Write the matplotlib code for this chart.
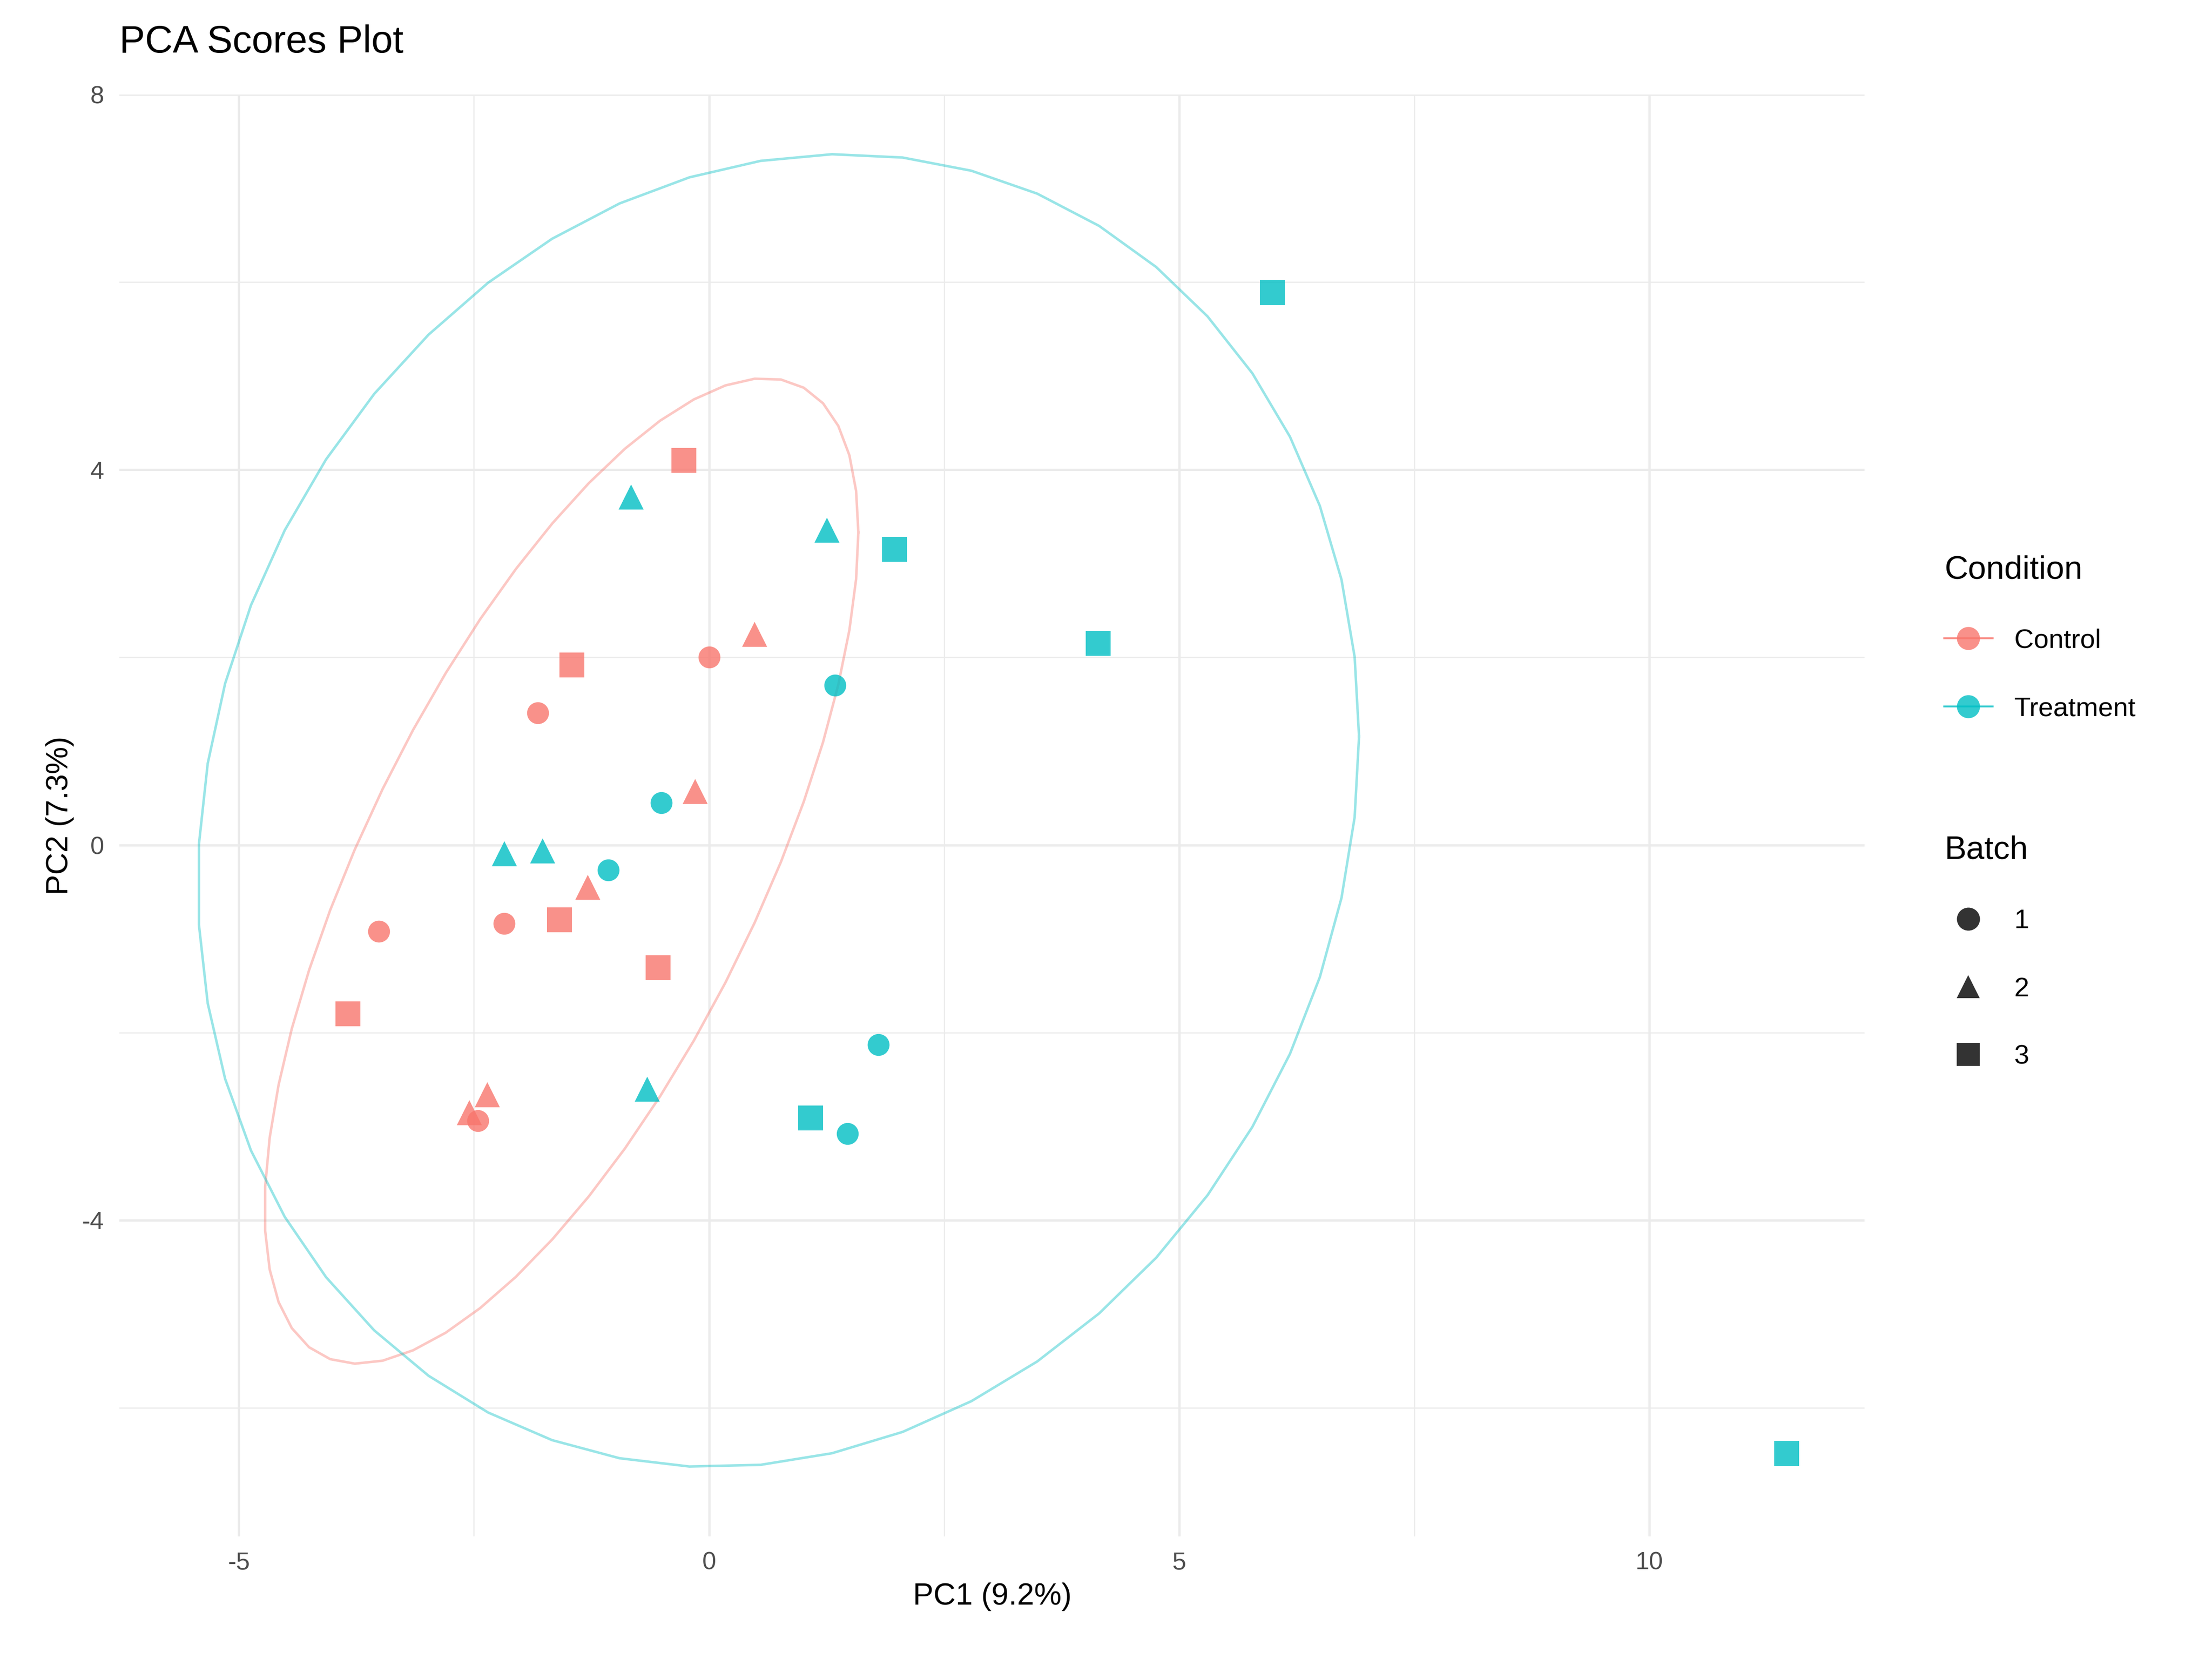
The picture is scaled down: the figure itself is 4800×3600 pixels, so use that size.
import numpy as np
import matplotlib.pyplot as plt
from matplotlib.lines import Line2D

# Control scores
ctrl_x = [0.0, -1.82, -3.51, -2.18, -2.46, 0.48, -0.15, -1.29, -2.36, -2.55, -0.27, -1.46, -1.59, -0.54, -3.84]
ctrl_y = [2.0, 1.41, -0.92, -0.84, -2.94, 2.25, 0.57, -0.45, -2.66, -2.85, 4.10, 1.92, -0.80, -1.31, -1.80]
ctrl_batch = [1, 1, 1, 1, 1, 2, 2, 2, 2, 2, 3, 3, 3, 3, 3]
# Treatment scores
trt_x = [1.34, -0.51, -1.07, 1.80, 1.47, -0.83, 1.25, -2.18, -1.77, -0.66, 5.99, 1.97, 4.14, 1.08, 11.46]
trt_y = [1.70, 0.45, -0.27, -2.13, -3.08, 3.71, 3.36, -0.09, -0.06, -2.60, 5.89, 3.15, 2.15, -2.91, -6.49]
trt_batch = [1, 1, 1, 1, 1, 2, 2, 2, 2, 2, 3, 3, 3, 3, 3]

colors = {"Control": "#F8766D", "Treatment": "#00BFC4"}
markers = {1: "o", 2: "^", 3: "s"}

plt.rcParams['font.family'] = ['Liberation Sans', 'DejaVu Sans']
plt.rcParams['axes.unicode_minus'] = False
fig = plt.figure(figsize=(16, 12), dpi=300)
ax = fig.add_axes([0.054, 0.074, 0.789, 0.869])


def trob(pts, nu=5, iters=200):
    # robust t covariance, like MASS::cov.trob
    n, p = pts.shape
    w = np.ones(n)
    for _ in range(iters):
        c = (w[:, None] * pts).sum(0) / w.sum()
        d = pts - c
        cov = (w[:, None] * d).T @ d / n
        q = np.einsum('ij,jk,ik->i', d, np.linalg.inv(cov), d)
        w = (nu + p) / (nu + q)
    return c, cov


def ellipse(x, y):
    pts = np.column_stack([x, y])
    center, cov = trob(pts)
    radius = np.sqrt(2 * 3.74)
    t = np.linspace(0, 2 * np.pi, 52)
    circ = np.column_stack([np.cos(t), np.sin(t)])
    chol = np.linalg.cholesky(cov)
    e = center + radius * circ @ chol.T
    return e[:, 0], e[:, 1]


for name, xs, ys, bs in [("Control", ctrl_x, ctrl_y, ctrl_batch),
                         ("Treatment", trt_x, trt_y, trt_batch)]:
    ex, ey = ellipse(xs, ys)
    ax.plot(ex, ey, color=colors[name], alpha=0.4, lw=1.3)
    for b in (1, 2, 3):
        px = [x for x, bb in zip(xs, bs) if bb == b]
        py = [y for y, bb in zip(ys, bs) if bb == b]
        ax.scatter(px, py, marker=markers[b], color=colors[name], alpha=0.8,
                   s=170 if b != 1 else 130, linewidths=0, zorder=3)

ax.set_xlim(-6.27, 12.29)
ax.set_ylim(-7.37, 8.0)
ax.set_xticks([-5, 0, 5, 10])
ax.set_yticks([-4, 0, 4, 8])
ax.set_xticks([-2.5, 2.5, 7.5], minor=True)
ax.set_yticks([-6, -2, 2, 6], minor=True)
ax.grid(True, which='major', color='#EBEBEB', lw=1.2)
ax.grid(True, which='minor', color='#EBEBEB', lw=0.6)
ax.set_axisbelow(True)
ax.tick_params(which='both', length=0, labelsize=13, colors='#4D4D4D', pad=8)
for s in ax.spines.values():
    s.set_visible(False)
ax.set_xlabel("PC1 (9.2%)", fontsize=16)
ax.set_ylabel("PC2 (7.3%)", fontsize=16)
ax.set_title("PCA Scores Plot", fontsize=20, loc='left', pad=22)

h1 = [Line2D([], [], color=colors[k], marker='o', markersize=12, alpha=0.8,
             lw=1, markeredgewidth=0) for k in colors]
fig.legend(h1, list(colors), title="Condition", loc='upper left',
           bbox_to_anchor=(0.868, 0.68), frameon=False, fontsize=14,
           title_fontsize=17, alignment='left', handlelength=1.8,
           labelspacing=1.6)
h2 = [Line2D([], [], color='#333333', marker=markers[b], markersize=12, lw=0,
             markeredgewidth=0) for b in (1, 2, 3)]
fig.legend(h2, ["1", "2", "3"], title="Batch", loc='upper left',
           bbox_to_anchor=(0.868, 0.511), frameon=False, fontsize=14,
           title_fontsize=17, alignment='left', handlelength=1.8,
           labelspacing=1.6)

fig.savefig("out.png", dpi=300, facecolor='white')
